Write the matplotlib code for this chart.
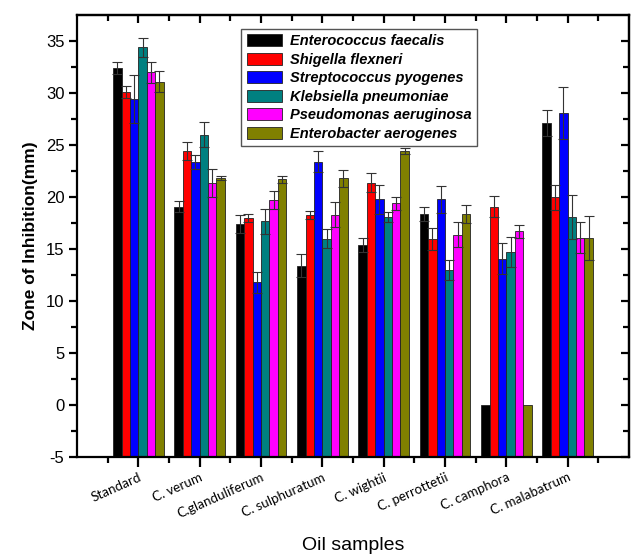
import matplotlib
matplotlib.use("Agg")
import matplotlib.pyplot as plt
import numpy as np

plt.rcParams["axes.unicode_minus"] = False

samples = ["Standard", "C. verum", "C.glanduliferum", "C. sulphuratum",
           "C. wightii", "C. perrottetii", "C. camphora", "C. malabatrum"]
series = ["Enterococcus faecalis", "Shigella flexneri", "Streptococcus pyogenes",
          "Klebsiella pneumoniae", "Pseudomonas aeruginosa", "Enterobacter aerogenes"]
colors = ["#000000", "#FF0000", "#0000FF", "#008080", "#FF00FF", "#808000"]

enterococcus = [32.4, 19.1, 17.4, 13.4, 15.4, 18.4, 0.0, 27.1]
shigella     = [30.1, 24.4, 18.0, 18.3, 21.4, 16.0, 19.1, 20.0]
strepto      = [29.4, 23.4, 11.8, 23.4, 19.8, 19.8, 14.1, 28.1]
klebsiella   = [34.4, 26.0, 17.7, 16.0, 18.1, 13.0, 14.7, 18.1]
pseudomonas  = [32.0, 21.4, 19.7, 18.3, 19.4, 16.4, 16.7, 16.1]
enterobacter = [31.1, 21.8, 21.7, 21.8, 24.4, 18.4, 0.0, 16.1]

err_enterococcus = [0.6, 0.55, 0.85, 1.1, 0.65, 0.65, 0.0, 1.25]
err_shigella     = [0.6, 0.85, 0.4, 0.4, 0.9, 1.05, 1.0, 1.2]
err_strepto      = [2.3, 0.65, 1.0, 1.0, 1.4, 1.3, 1.45, 2.5]
err_klebsiella   = [0.9, 1.2, 1.2, 0.9, 0.5, 1.0, 1.45, 2.1]
err_pseudomonas  = [1.0, 1.35, 0.85, 1.2, 0.65, 1.2, 0.65, 1.5]
err_enterobacter = [1.0, 0.2, 0.35, 0.85, 0.3, 0.85, 0.0, 2.1]

values = [enterococcus, shigella, strepto, klebsiella, pseudomonas, enterobacter]
errors = [err_enterococcus, err_shigella, err_strepto, err_klebsiella,
          err_pseudomonas, err_enterobacter]

baseline = -5.0

fig = plt.figure(figsize=(6.33, 5.56), dpi=100)
ax = fig.add_axes([0.1216, 0.1775, 0.8721, 0.7955])

x = np.arange(1, len(samples) + 1)
w = 0.137
for i, (vals, errs, c, name) in enumerate(zip(values, errors, colors, series)):
    pos = x + (i - 2.5) * w
    vals_arr = np.array(vals)
    ax.bar(pos, vals_arr - baseline, bottom=baseline, width=w, color=c,
           edgecolor="#222222", linewidth=0.6, label=name, zorder=2)
    errs_arr = np.array(errs)
    mask = errs_arr > 0
    ax.errorbar(pos[mask], vals_arr[mask], yerr=errs_arr[mask], fmt="none",
                ecolor="#333333", elinewidth=0.8, capsize=3.5, capthick=0.8, zorder=3)

ax.set_xlim(0, 9)
ax.set_ylim(-5, 37.5)
ax.set_xticks(x)
ax.set_xticks(np.arange(0.5, 9.0, 1.0), minor=True)
ax.set_xticklabels(samples, rotation=24, ha="right", rotation_mode="anchor",
                   fontsize=9.6, family="Lato")
ax.set_yticks(np.arange(-5, 36, 5))
ax.set_yticks(np.arange(-2.5, 37.5, 5), minor=True)
for lab in ax.get_yticklabels():
    lab.set_family("Liberation Sans")
    lab.set_fontsize(12)

for s in ax.spines.values():
    s.set_linewidth(1.6)

ax.tick_params(axis="both", which="major", direction="out", length=6, width=1.6,
               top=False, right=False, pad=3)
ax.tick_params(axis="both", which="minor", direction="out", length=4, width=1.6,
               top=False, right=False)
ax.tick_params(axis="x", which="major", length=7)

secx = ax.secondary_xaxis("top")
secx.set_xticks(x)
secx.set_xticks(np.arange(0.5, 9.0, 1.0), minor=True)
secx.tick_params(which="major", direction="in", length=6, width=1.6, labeltop=False)
secx.tick_params(which="minor", direction="in", length=4, width=1.6)
secx.spines["top"].set_linewidth(1.6)

secy = ax.secondary_yaxis("right")
secy.set_yticks(np.arange(-5, 36, 5))
secy.set_yticks(np.arange(-2.5, 37.5, 5), minor=True)
secy.tick_params(which="major", direction="in", length=6, width=1.6, labelright=False)
secy.tick_params(which="minor", direction="in", length=4, width=1.6)
secy.spines["right"].set_linewidth(1.6)

ax.set_ylabel("Zone of Inhibition(mm)", fontsize=12.5, fontweight="bold",
              family="Liberation Sans", labelpad=6)
ax.set_xlabel("Oil samples", fontsize=14, family="Liberation Sans", labelpad=12)

leg = ax.legend(loc="upper left", bbox_to_anchor=(0.298, 0.968),
                prop={"family": "Liberation Sans", "weight": "bold",
                      "style": "italic", "size": 10.5},
                fancybox=False, edgecolor="#555555", framealpha=1,
                handlelength=2.4, handleheight=0.9, handletextpad=0.6,
                labelspacing=0.3, borderpad=0.35, borderaxespad=0)
leg.get_frame().set_linewidth(1.0)

fig.savefig("out.png", dpi=100)
